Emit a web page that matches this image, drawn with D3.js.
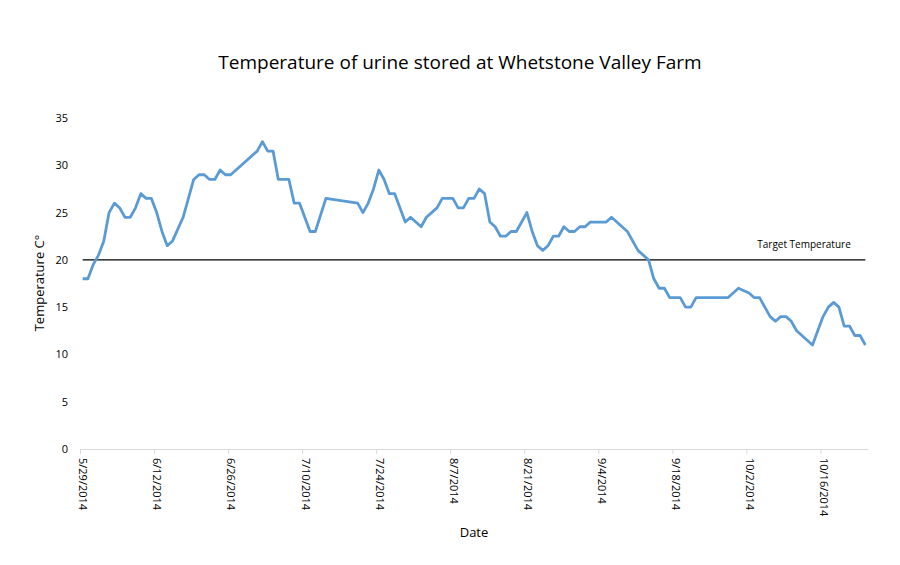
<!DOCTYPE html>
<html>
<head>
<meta charset="utf-8">
<script src="https://cdn.jsdelivr.net/npm/d3@7"></script>
<style>
  body { margin: 0; background: #fff; }
  svg { display: block; }
</style>
</head>
<body>
<svg id="chart" width="900" height="565"></svg>
<script>
// ---- data ----
const dates = [
  "2014-05-29","2014-05-30","2014-05-31","2014-06-01","2014-06-02","2014-06-03","2014-06-04","2014-06-05",
  "2014-06-06","2014-06-07","2014-06-08","2014-06-09","2014-06-10","2014-06-11","2014-06-12","2014-06-13",
  "2014-06-14","2014-06-15","2014-06-17","2014-06-18","2014-06-19","2014-06-20","2014-06-21","2014-06-22",
  "2014-06-23","2014-06-24","2014-06-25","2014-06-26","2014-07-01","2014-07-02","2014-07-03","2014-07-04",
  "2014-07-05","2014-07-07","2014-07-08","2014-07-09","2014-07-11","2014-07-12","2014-07-14","2014-07-20",
  "2014-07-21","2014-07-22","2014-07-23","2014-07-24","2014-07-25","2014-07-26","2014-07-27","2014-07-29",
  "2014-07-30","2014-08-01","2014-08-02","2014-08-04","2014-08-05","2014-08-07","2014-08-08","2014-08-09",
  "2014-08-10","2014-08-11","2014-08-12","2014-08-13","2014-08-14","2014-08-15","2014-08-16","2014-08-17",
  "2014-08-18","2014-08-19","2014-08-21","2014-08-22","2014-08-23","2014-08-24","2014-08-25","2014-08-26",
  "2014-08-27","2014-08-28","2014-08-29","2014-08-30","2014-08-31","2014-09-01","2014-09-02","2014-09-05",
  "2014-09-06","2014-09-09","2014-09-11","2014-09-13","2014-09-14","2014-09-15","2014-09-16","2014-09-17",
  "2014-09-19","2014-09-20","2014-09-21","2014-09-22","2014-09-28","2014-09-30","2014-10-02","2014-10-03",
  "2014-10-04","2014-10-06","2014-10-07","2014-10-08","2014-10-09","2014-10-10","2014-10-11","2014-10-14",
  "2014-10-16","2014-10-17","2014-10-18","2014-10-19","2014-10-20","2014-10-21","2014-10-22","2014-10-23",
  "2014-10-24"
];
const temperatures = [
  18, 18, 19.5, 20.5, 22, 25, 26, 25.5,
  24.5, 24.5, 25.5, 27, 26.5, 26.5, 25, 23,
  21.5, 22, 24.5, 26.5, 28.5, 29, 29, 28.5,
  28.5, 29.5, 29, 29, 31.5, 32.5, 31.5, 31.5,
  28.5, 28.5, 26, 26, 23, 23, 26.5, 26,
  25, 26, 27.5, 29.5, 28.5, 27, 27, 24,
  24.5, 23.5, 24.5, 25.5, 26.5, 26.5, 25.5, 25.5,
  26.5, 26.5, 27.5, 27, 24, 23.5, 22.5, 22.5,
  23, 23, 25, 23, 21.5, 21, 21.5, 22.5,
  22.5, 23.5, 23, 23, 23.5, 23.5, 24, 24,
  24.5, 23, 21, 20, 18, 17, 17, 16,
  16, 15, 15, 16, 16, 17, 16.5, 16,
  16, 14, 13.5, 14, 14, 13.5, 12.5, 11,
  14, 15, 15.5, 15, 13, 13, 12, 12,
  11
];
const targetTemperature = 20;
const targetLabel = "Target Temperature";
const yTicks = [0, 5, 10, 15, 20, 25, 30, 35];
const xTickDates = ["2014-05-29","2014-06-12","2014-06-26","2014-07-10","2014-07-24","2014-08-07",
                    "2014-08-21","2014-09-04","2014-09-18","2014-10-02","2014-10-16"];
const axisStart = "2014-05-29";
const axisEnd = "2014-10-25";
const title = "Temperature of urine stored at Whetstone Valley Farm";
const xTitle = "Date";
const yTitle = "Temperature C°";

// ---- chart ----
const parse = d3.utcParse("%Y-%m-%d");
const fmt = d3.utcFormat("%-m/%-d/%Y");
const data = dates.map((d, i) => ({ date: parse(d), value: temperatures[i] }));

const svg = d3.select("#chart");
const plotLeft = 80, plotRight = 868, plotTop = 118, plotBottom = 449;

const x = d3.scaleUtc().domain([parse(axisStart), parse(axisEnd)]).range([plotLeft, plotRight]);
const y = d3.scaleLinear().domain([0, 35]).range([plotBottom, plotTop]);
const mid = d => x(d3.utcHour.offset(d, 12)); // point in middle of its day

const font = "'Open Sans', sans-serif";

// title
svg.append("text")
  .attr("x", 460).attr("y", 69)
  .attr("text-anchor", "middle")
  .style("font-family", font).style("font-size", "19px").style("fill", "#000")
  .text(title);

// x axis
const xAxis = d3.axisBottom(x)
  .tickValues(xTickDates.map(parse))
  .tickFormat(fmt)
  .tickSizeInner(5).tickSizeOuter(0);
const gx = svg.append("g").attr("transform", `translate(0,${plotBottom})`).call(xAxis);
gx.select(".domain").attr("stroke", "#d9d9d9").attr("stroke-width", 1);
gx.selectAll(".tick line").attr("stroke", "#d9d9d9");
gx.selectAll(".tick text")
  .attr("transform", "rotate(90)")
  .attr("x", 9).attr("y", 0).attr("dy", "0.1em")
  .style("text-anchor", "start")
  .style("font-family", font).style("font-size", "11px").style("fill", "#000");

// y axis
const yAxis = d3.axisLeft(y).tickValues(yTicks).tickSize(0).tickPadding(0);
const gy = svg.append("g").attr("transform", `translate(68,0)`).call(yAxis);
gy.select(".domain").remove();
gy.selectAll(".tick text")
  .style("font-family", font).style("font-size", "11px").style("fill", "#000");

// target line
svg.append("line")
  .attr("x1", mid(data[0].date)).attr("x2", mid(data[data.length - 1].date))
  .attr("y1", y(targetTemperature)).attr("y2", y(targetTemperature))
  .attr("stroke", "#000").attr("stroke-width", 1.2);
svg.append("text")
  .attr("x", 804).attr("y", y(targetTemperature) - 12)
  .attr("text-anchor", "middle")
  .style("font-family", font).style("font-size", "10px").style("fill", "#000")
  .text(targetLabel);

// data line
svg.append("path")
  .datum(data)
  .attr("fill", "none")
  .attr("stroke", "#5b9bd5")
  .attr("stroke-width", 2.8)
  .attr("stroke-linejoin", "round")
  .attr("d", d3.line().x(d => mid(d.date)).y(d => y(d.value)));

// axis titles
svg.append("text")
  .attr("x", 474).attr("y", 537)
  .attr("text-anchor", "middle")
  .style("font-family", font).style("font-size", "13px").style("fill", "#000")
  .text(xTitle);
svg.append("text")
  .attr("transform", `translate(44,283) rotate(-90)`)
  .attr("text-anchor", "middle")
  .style("font-family", font).style("font-size", "13px").style("fill", "#000")
  .text(yTitle);
</script>
</body>
</html>
